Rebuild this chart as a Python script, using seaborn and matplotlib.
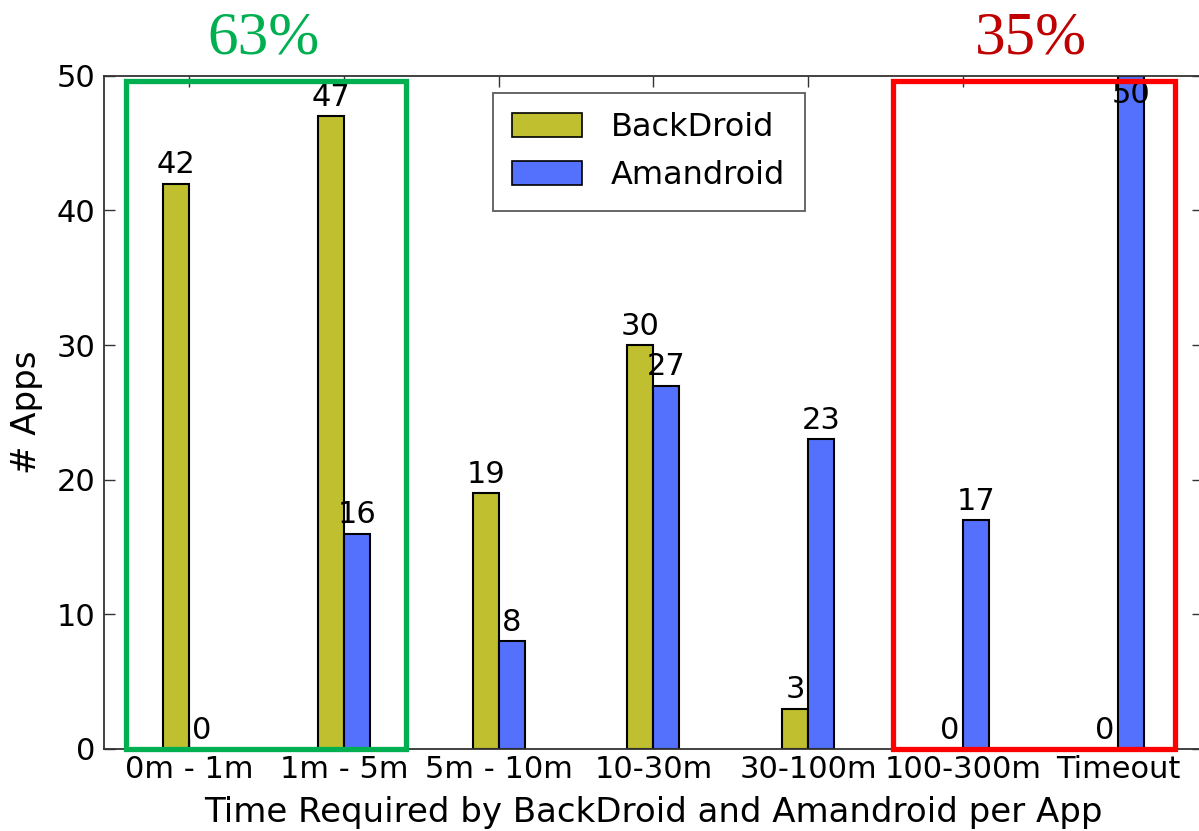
import numpy as np
import pandas as pd
import matplotlib
matplotlib.use("Agg")
import matplotlib.pyplot as plt
from matplotlib.patches import Patch, Rectangle
import seaborn as sns

categories = ["0m - 1m", "1m - 5m", "5m - 10m", "10-30m", "30-100m", "100-300m", "Timeout"]
backdroid = [42, 47, 19, 30, 3, 0, 0]
amandroid = [0, 16, 8, 27, 23, 17, 50]
series_names = ["BackDroid", "Amandroid"]
colors = ["#bfbf2f", "#5471fe"]

df = pd.DataFrame({
    "time": categories * 2,
    "apps": backdroid + amandroid,
    "tool": [series_names[0]] * len(categories) + [series_names[1]] * len(categories),
})

sns.set_theme(style="white", rc={"text.color": "black", "axes.labelcolor": "black",
                                 "xtick.color": "black", "ytick.color": "black"})
plt.rcParams["font.family"] = ["DejaVu Sans"]

fig = plt.figure(figsize=(11.99, 8.31), dpi=100)
ax = fig.add_axes([0.0867, 0.0987, 0.9166, 0.81])

sns.barplot(data=df, x="time", y="apps", hue="tool", order=categories,
            hue_order=series_names, palette=colors, saturation=1,
            width=0.336, edgecolor="black", linewidth=1.5, ax=ax,
            legend=False, errorbar=None)

ax.set_xlim(-0.55, 6.55)
ax.set_ylim(0, 50)
ax.set_yticks([0, 10, 20, 30, 40, 50])

for spine in ax.spines.values():
    spine.set_visible(True)
    spine.set_color("#333333")
    spine.set_linewidth(1.3)

ax.tick_params(axis="both", direction="in", length=8, width=1, color="#333333",
               labelcolor="black", top=True, right=True, bottom=True, left=True,
               labelsize=22)
ax.tick_params(axis="x", pad=4)
ax.tick_params(axis="y", pad=6)

ax.set_xlabel("Time Required by BackDroid and Amandroid per App", fontsize=24.5,
              labelpad=9, color="black")
ax.set_ylabel("# Apps", fontsize=24.5, labelpad=10, color="black")

# value labels
for container, vals in zip(ax.containers, [backdroid, amandroid]):
    for bar, v in zip(container, vals):
        cx = bar.get_x() + bar.get_width() / 2
        y = v if v < 48 else v - 2.8
        ax.annotate(str(v), (cx, y), xytext=(0, 3), textcoords="offset points",
                    ha="center", va="bottom", fontsize=22, color="black",
                    annotation_clip=False)

handles = [Patch(facecolor=c, edgecolor="black", linewidth=1.2) for c in colors]
leg = ax.legend(handles, series_names, loc="upper left", bbox_to_anchor=(0.354, 0.975),
                borderaxespad=0, fontsize=23, handlelength=2.2, handleheight=0.78,
                handletextpad=0.9, labelspacing=0.55, borderpad=0.6, fancybox=False,
                frameon=True)
leg.get_frame().set_edgecolor("#333333")
leg.get_frame().set_linewidth(1.3)
for t in leg.get_texts():
    t.set_color("black")

# highlight boxes
ax.add_patch(Rectangle((-0.41, 0), 1.81, 49.6, fill=False, edgecolor="#00b050",
                       linewidth=3.8, clip_on=False, zorder=5))
ax.add_patch(Rectangle((4.545, 0), 1.825, 49.6, fill=False, edgecolor="#ff0000",
                       linewidth=3.8, clip_on=False, zorder=5))

fig.text(263 / 1199, 1 - 54 / 831, "63%", ha="center", va="baseline",
         fontsize=44, color="#00b050", family="Liberation Serif")
fig.text(1031 / 1199, 1 - 54 / 831, "35%", ha="center", va="baseline",
         fontsize=44, color="#c00000", family="Liberation Serif")

fig.savefig("out.png", dpi=100)
